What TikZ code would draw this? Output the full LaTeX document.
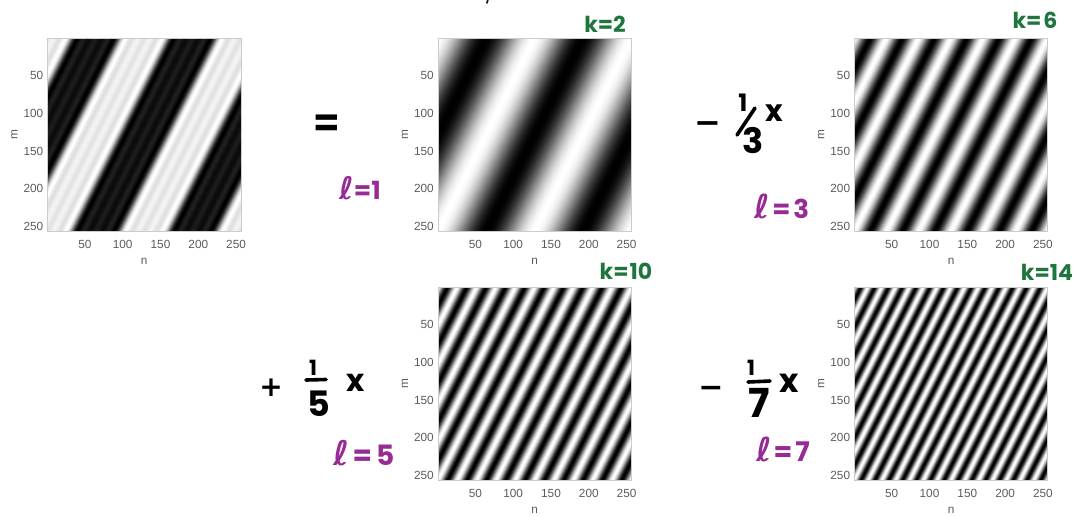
\documentclass[tikz,border=0pt]{standalone}
\usepackage{fontspec}
\setmainfont{Liberation Sans}
\newfontfamily\handfont{Poppins}
\newfontfamily\djfont{DejaVu Sans}
\definecolor{tickgray}{gray}{0.36}
\definecolor{hgreen}{RGB}{30,118,62}
\definecolor{hpurple}{RGB}{152,42,150}
\definecolor{axgray}{gray}{0.8}
\newcommand\psz{193.5}
\newcommand\gratingpanel[4]{%
\begin{scope}[shift={(#1,#2)}]
 \begin{scope}
  \clip (0,0) rectangle (\psz,\psz);
  \fill[black] (0,0) rectangle (\psz,\psz);
  \foreach \i in {0,...,390}{
    \pgfmathsetmacro\wa{1.5*\i}
    \pgfmathsetmacro\th{(\wa+0.75)/\psz*360}
    \ifnum#3=0
      \pgfmathsetmacro\p{max(0,min(100,50*((cos(\th)-cos(3*\th)/3+cos(5*\th)/5-cos(7*\th)/7)/0.93+1)))}
    \else
      \pgfmathsetmacro\p{max(0,min(100,50*(cos(#3*\th)+1)))}
    \fi
    \fill[white!\p!black] (\wa/2,0) -- ({(\wa+3)/2},0) -- ({(\wa+3-\psz)/2},\psz) -- ({(\wa-\psz)/2},\psz) -- cycle;
  }
 \end{scope}
 \draw[axgray, line width=0.7pt] (0,0) rectangle (\psz,\psz);
 \foreach \v in {50,100,150,200,250}{
   \node[ticklab,anchor=east] (#4y\v) at (-4,{(\v-0.5)/256*\psz}) {\v};
   \node[ticklab] (#4x\v) at ({(\v-0.5)/256*\psz},\psz+12.5) {\v};
 }
 \node[ticklab] (#4n) at (\psz/2,\psz+30) {n};
 \node[ticklab,rotate=90] (#4m) at (-33,\psz/2) {m};
\end{scope}}
\newcommand\ellsym[1]{{\djfont\fontsize{#1}{#1}\selectfont ℓ}}
\begin{document}
\begin{tikzpicture}[x=1pt,y=-1pt,
  ticklab/.style={inner sep=0pt,text=tickgray,font=\fontsize{11.8}{12}\selectfont},
  klab/.style={inner sep=0pt,anchor=base,text=hgreen,font=\handfont\bfseries\fontsize{22}{22}\selectfont},
  llab/.style={inner sep=0pt,anchor=base,text=hpurple,font=\handfont\bfseries\fontsize{#1}{#1}\selectfont},
  hw/.style={inner sep=0pt,anchor=base,text=black,font=\handfont\bfseries\fontsize{#1}{#1}\selectfont},
  stroke/.style={line width=3.6pt,line cap=round,black}]
\fill[white] (0,0) rectangle (1077,515);
\useasboundingbox (0,0) rectangle (1077,515);
\gratingpanel{47.5}{38}{0}{p1}
\gratingpanel{438}{38}{1}{p2}
\gratingpanel{854.3}{38}{3}{p3}
\gratingpanel{438}{287}{5}{p4}
\gratingpanel{854.3}{287}{7}{p5}
% green labels
\node[klab] (k2) at (605,32) {k=2};
\node[klab] (k6) at (1035,28) {k=\kern2pt6};
\node[klab] (k10) at (626,279) {k=\kern1pt10};
\node[klab] (k14) at (1047,280) {k=14};
% purple labels
\node[llab=25] (l1) at (360,199) {\ellsym{31}=1};
\node[llab=26] (l3) at (782,218) {\ellsym{33}\kern2pt=\kern3pt3};
\node[llab=28] (l5) at (364,465) {\ellsym{34}\kern3pt=\kern4pt5};
\node[llab=27] (l7) at (783,461) {\ellsym{33}\kern2pt=\kern3pt7};
% equals
\node[hw=36] (eq) at (327,137) {\djfont\scalebox{0.95}[1.3]{=}};
% - 1/3 x
\node[hw=32] (m3) at (708,133.5) {\djfont −};
\node[hw=24] (n3) at (743,111) {1};
\coordinate (s3a) at (737,135);
\coordinate (s3b) at (755,108);
\draw[stroke] (s3a) -- (s3b);
\node[hw=35] (d3) at (753,153) {3};
\node[hw=30] (x3) at (774,121) {x};
% + 1/5 x
\node[hw=28] (pl4) at (271,396) {\djfont +};
\node[hw=21] (n4) at (313,375) {1};
\coordinate (b4a) at (306,380);
\coordinate (b4b) at (326,379.5);
\draw[stroke] (b4a) -- (b4b);
\node[hw=35] (d4) at (319,416) {5};
\node[hw=31] (x4) at (356,391) {x};
% - 1/7 x
\node[hw=30] (m5) at (711,397) {\djfont −};
\node[hw=21] (n5) at (751,375) {1};
\coordinate (b5a) at (748,382);
\coordinate (b5b) at (770,381);
\draw[stroke] (b5a) -- (b5b);
\node[hw=40] (d5) at (759,417) {7};
\node[hw=33] (x5) at (789,392) {x};
% fragment at top edge
\coordinate (fa) at (488,-1);
\coordinate (fb) at (487,3);
\draw[line width=1.8pt,line cap=round,black!70!hgreen] (fa) -- (fb);
\end{tikzpicture}
\end{document}
